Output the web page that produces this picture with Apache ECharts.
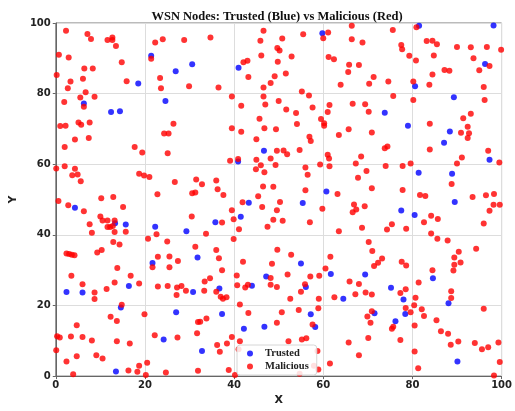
<!DOCTYPE html>
<html>
<head>
    <meta charset="UTF-8">
    <title>WSN Nodes</title>
    <style>
        html, body { margin: 0; padding: 0; background: #fff; }
        #chart { width: 515px; height: 411px; }
    </style>
    <script src="https://cdn.jsdelivr.net/npm/echarts@6/dist/echarts.min.js"></script>
</head>
<body>
<div id="chart"></div>
<script type="text/javascript">
    // axis ticks
    var ticks = [0, 20, 40, 60, 80, 100];

    // trusted nodes [x, y]
    var trusted = [
        [6.3,77.2],[18.5,82.9],[12.4,74.8],[14.4,75.0],[21.4,90.7],[26.9,86.3],[30.6,88.3],[24.6,77.9],
        [41.0,87.3],[59.8,97.1],
        [81.5,99.2],[98.2,99.3],[96.3,88.4],[80.6,82.1],[89.3,79.0],[73.8,74.6],[79.0,70.9],[88.4,69.3],[87.1,66.1],
        [4.3,47.7],[13.3,43.3],[15.7,42.9],[22.3,42.3],[29.3,41.0],[21.7,32.0],[31.8,33.6],
        [46.7,63.8],[40.9,60.8],[60.7,52.3],[55.4,49.0],[43.3,49.1],[41.5,45.1],[35.8,43.6],[55.0,31.9],
        [97.3,61.3],[81.4,57.6],[88.9,57.3],[89.5,49.3],[77.5,46.9],[80.5,45.6],
        [2.4,23.8],[6.0,23.7],[16.4,25.5],[30.8,23.8],[14.6,19.4],[27.0,18.1],[24.2,10.4],[13.5,1.3],
        [36.7,24.8],[44.0,25.6],[47.2,28.2],[56.1,25.2],[61.7,28.9],[64.5,21.9],[37.3,17.6],[57.2,17.5],
        [58.2,13.9],[42.2,13.4],[46.8,14.0],[32.8,7.1],
        [69.4,28.8],[84.6,27.7],[75.2,25.0],[78.0,21.7],[88.1,20.6],[71.5,17.8],[78.4,17.6],[76.2,15.5],[90.1,4.1]
    ];

    // malicious nodes [x, y]
    var malicious = [
        // top left
        [2.3,97.8],[7.1,96.9],[7.9,95.5],[11.6,95.2],[12.7,95.9],[12.7,95.2],[13.5,93.5],[0.7,91.0],[2.9,90.2],
        [14.8,88.9],[6.4,87.1],[8.3,87.1],[0.2,85.3],[6.1,84.2],[3.3,83.4],[15.9,83.5],[2.7,81.5],[6.7,80.4],
        [5.5,78.9],[8.7,79.1],[6.3,76.3],[1.9,77.6],[1.0,70.8],[2.2,70.9],[5.1,71.8],[5.7,71.2],[7.6,71.8],
        [4.3,67.0],[7.4,67.4],[22.3,94.5],[24.0,95.4],[28.8,95.2],[21.4,89.9],[23.4,84.4],[23.6,81.5],
        [29.9,82.1],[26.4,71.5],[24.3,68.7],[25.3,68.7],
        // top middle
        [34.7,95.9],[46.6,97.8],[45.9,95.0],[50.8,95.6],[55.5,96.8],[61.1,97.3],[60.0,95.7],[66.4,99.2],
        [66.4,95.4],[49.7,92.9],[50.2,92.2],[46.1,90.8],[52.9,90.5],[42.1,88.9],[43.0,89.3],[49.8,89.0],
        [61.2,90.4],[62.4,89.7],[65.8,88.2],[65.6,86.1],[43.2,84.7],[49.1,84.9],[51.6,85.7],[63.9,82.5],
        [48.2,83.0],[36.5,81.7],[46.6,81.7],[39.5,79.2],[46.6,79.2],[55.2,80.6],[56.8,79.5],[50.0,77.9],
        [41.6,76.6],[47.0,76.9],[61.4,76.8],[66.6,77.1],[51.7,75.5],[57.6,76.1],[53.9,74.5],[61.0,74.8],
        [45.7,72.9],[59.5,72.8],[60.2,71.6],[60.2,70.9],[54.1,71.4],[39.5,70.2],[41.6,69.2],[46.8,70.2],
        [49.4,69.9],[65.7,69.9],[45.0,67.1],[56.9,67.8],[57.2,66.6],[63.5,68.3],
        // top right
        [75.6,98.0],[80.9,98.8],[68.8,94.5],[77.5,93.8],[77.7,92.6],[83.2,94.9],[84.5,95.0],[85.5,94.0],
        [90.0,93.2],[93.1,93.1],[96.7,93.2],[99.9,92.4],[79.3,90.7],[80.8,89.4],[84.8,90.8],[93.7,90.0],
        [68.0,88.1],[87.2,86.7],[88.3,86.5],[95.0,86.6],[97.3,87.8],[71.3,84.7],[84.5,85.4],[70.3,82.8],
        [74.6,83.4],[80.2,83.4],[83.8,82.5],[96.0,81.9],[75.7,79.3],[80.2,78.2],[96.2,78.2],[69.4,77.0],
        [70.2,74.9],[93.1,74.3],[91.4,73.0],[83.9,71.5],[92.4,70.6],[70.9,69.0],[90.9,68.9],[92.7,68.8],
        [92.4,67.4],
        // middle left
        [2.0,64.9],[17.7,64.9],[19.4,63.3],[25.1,63.1],[0.1,58.8],[2.0,59.4],[4.3,58.7],[3.7,56.9],[4.9,57.1],
        [5.6,55.2],[18.7,57.3],[19.8,56.8],[21.0,56.4],[26.7,55.0],[31.5,55.7],[22.8,51.5],[30.6,51.8],
        [31.3,52.0],[0.6,49.6],[2.8,48.4],[10.2,50.4],[12.9,50.7],[15.1,47.9],[6.3,46.7],[30.5,45.2],
        [10.0,45.2],[10.5,44.1],[11.6,44.1],[13.2,44.1],[7.6,43.0],[11.6,42.2],[12.2,42.2],[12.8,42.5],
        [13.2,40.8],[8.1,40.6],[15.7,40.9],[22.6,40.2],[20.7,38.9],[12.9,38.0],[14.3,37.3],[25.0,38.1],
        [31.3,36.6],[9.3,35.0],[10.3,35.7],[2.4,34.7],[3.0,34.6],[3.6,34.4],[4.2,34.2],[22.9,33.8],
        [25.5,33.9],[27.4,32.6],[13.8,30.6],[21.7,30.8],[25.5,30.8],
        // middle
        [49.6,63.8],[51.1,63.9],[51.9,62.8],[54.7,64.0],[61.0,62.7],[61.3,61.6],[39.1,61.0],[40.9,61.5],
        [45.0,61.3],[48.2,61.6],[44.9,58.6],[46.0,59.7],[49.3,59.8],[46.8,57.7],[56.0,59.1],[59.3,59.9],
        [61.4,59.4],[56.5,57.0],[32.8,54.3],[36.0,55.4],[36.3,52.9],[37.6,51.3],[46.5,53.7],[48.8,53.6],
        [56.0,52.6],[63.2,51.6],[45.4,50.9],[41.9,49.2],[50.3,49.3],[46.3,47.9],[39.5,47.0],[49.6,47.0],
        [59.8,47.4],[66.6,46.4],[39.9,44.4],[37.3,43.5],[48.8,44.3],[50.9,44.0],[57.0,43.6],[47.5,42.3],
        [41.1,41.6],[63.5,41.0],[33.7,40.3],[39.9,38.8],[36.0,35.7],[49.7,35.8],[52.8,34.4],[61.6,33.8],
        [36.6,33.4],[42.0,32.4],[48.5,31.8],[60.5,30.5],[37.3,30.0],
        // middle right
        [73.8,64.5],[74.4,65.0],[83.9,64.2],[97.0,63.8],[68.5,62.2],[91.1,61.9],[67.3,60.2],[74.0,59.5],
        [77.8,59.5],[79.6,60.2],[90.0,60.2],[99.5,60.5],[69.7,58.1],[67.8,56.2],[88.8,54.4],[70.9,53.2],
        [77.8,52.7],[81.7,51.3],[82.9,51.0],[93.5,50.7],[96.5,51.2],[98.3,51.6],[67.4,47.2],[69.3,48.1],
        [66.9,48.6],[98.2,48.5],[99.6,48.5],[97.3,46.8],[84.2,45.4],[85.7,44.5],[82.6,43.6],[75.4,43.0],
        [96.0,43.2],[68.7,42.0],[74.3,41.5],[78.6,41.7],[84.2,40.4],[85.6,38.9],[87.9,38.4],[70.2,38.0],
        [94.3,36.1],[71.0,35.4],[90.4,35.2],[89.4,33.6],[73.2,33.3],[90.8,32.2],[89.4,31.5],[72.3,32.1],
        [71.4,31.2],[77.6,32.4],[78.6,31.3],[84.5,30.0],[89.2,29.9],
        // bottom left
        [3.5,28.4],[16.8,28.4],[6.0,26.0],[13.2,26.5],[18.7,26.2],[11.4,24.7],[8.7,23.7],[8.7,21.8],
        [22.9,25.4],[25.1,25.5],[27.2,25.1],[28.2,25.5],[29.2,24.2],[27.1,23.0],[14.8,20.2],[19.9,17.5],
        [12.3,16.8],[13.7,15.6],[4.7,14.4],[31.9,15.3],[0.3,11.3],[0.9,10.9],[3.4,11.2],[6.0,11.1],
        [8.1,10.1],[13.7,9.9],[16.6,9.2],[22.2,11.6],[27.3,10.9],[31.7,12.1],[0.1,7.3],[2.4,4.1],[4.7,5.6],
        [9.1,5.9],[10.5,5.0],[3.9,0.5],[16.3,1.6],[18.3,1.2],[18.7,2.9],[20.5,3.8],[20.2,0.3],[24.7,1.0],
        [31.9,1.5],
        // bottom middle
        [33.4,26.8],[34.6,27.7],[40.6,28.5],[48.2,27.8],[52.0,28.8],[57.1,28.2],[59.1,28.4],[33.3,24.2],
        [36.0,23.9],[40.7,25.7],[42.5,25.1],[43.1,25.9],[48.2,25.9],[49.6,25.2],[55.9,26.0],[55.0,23.9],
        [37.0,22.5],[37.5,21.9],[38.3,22.3],[65.9,26.8],[52.6,21.9],[59.0,21.9],[62.5,22.3],[41.3,20.3],
        [43.2,17.9],[50.7,18.1],[54.5,18.7],[58.9,19.2],[32.4,15.4],[33.8,16.3],[49.6,15.1],[57.6,14.6],
        [39.5,11.1],[41.3,9.9],[38.4,9.2],[36.2,8.8],[52.2,9.9],[55.2,10.4],[56.2,10.7],[65.7,9.5],
        [41.0,7.6],[36.8,6.9],[58.7,7.1],[61.5,3.6],[38.8,1.7],[40.2,0.3],[54.7,0.7],[57.9,2.9],[58.9,1.9],
        // bottom right
        [68.0,26.1],[67.2,23.2],[69.5,23.7],[70.9,23.1],[77.3,23.5],[78.5,24.6],[81.4,26.5],[80.7,22.2],
        [88.7,24.0],[88.7,22.1],[70.9,18.4],[69.9,16.9],[70.6,15.1],[78.5,19.3],[80.4,20.1],[79.6,18.1],
        [82.1,18.9],[82.6,17.0],[96.0,19.1],[75.7,14.0],[75.4,13.4],[80.5,14.3],[85.4,15.8],[70.1,10.8],
        [77.3,10.2],[86.4,12.7],[88.0,12.0],[88.6,8.9],[90.3,9.8],[94.0,9.4],[95.6,7.6],[97.0,8.2],
        [99.3,9.5],[68.0,5.9],[80.5,7.0],[99.6,4.0],[81.3,2.2],[98.3,0.2]
    ];

    var myChart = echarts.init(document.getElementById('chart'), null, { renderer: 'canvas' });

    var axisFont = { fontFamily: 'DejaVu Sans', fontWeight: 'bold', fontSize: 10, color: '#222' };

    var option = {
        animation: false,
        backgroundColor: '#fff',
        title: {
            text: 'WSN Nodes: Trusted (Blue) vs Malicious (Red)',
            left: 272,
            textAlign: 'center',
            top: 5,
            textStyle: { fontFamily: 'Liberation Serif', fontWeight: 'bold', fontSize: 12.5, color: '#111' }
        },
        grid: {
            left: 43, right: 13, top: 23, bottom: 31,
            show: true, borderColor: '#777', borderWidth: 1
        },
        legend: {
            orient: 'vertical',
            left: 237, top: 345,
            padding: [3, 8, 3, 10],
            itemGap: 2,
            itemWidth: 6, itemHeight: 6,
            icon: 'circle',
            backgroundColor: 'rgba(255,255,255,0.85)',
            borderColor: '#d6d6d6', borderWidth: 1, borderRadius: 3,
            textStyle: {
                fontFamily: 'Liberation Serif', fontWeight: 'bold', fontSize: 10.5, color: '#222',
                padding: [0, 0, 0, 7]
            },
            data: ['Trusted', 'Malicious']
        },
        xAxis: {
            type: 'value', min: ticks[0], max: ticks[ticks.length - 1], interval: 20,
            name: 'X', nameLocation: 'middle', nameGap: 18,
            nameTextStyle: { fontFamily: 'DejaVu Sans', fontWeight: 'bold', fontSize: 11, color: '#222' },
            axisLine: { show: true, lineStyle: { color: '#666' } },
            axisTick: { show: true, inside: false, length: 3, lineStyle: { color: '#666' } },
            axisLabel: Object.assign({ margin: 4 }, axisFont),
            splitLine: { show: true, lineStyle: { color: '#dddddd', width: 1 } }
        },
        yAxis: {
            type: 'value', min: ticks[0], max: ticks[ticks.length - 1], interval: 20,
            name: 'Y', nameLocation: 'middle', nameGap: 31, nameRotate: 90,
            nameTextStyle: { fontFamily: 'DejaVu Sans', fontWeight: 'bold', fontSize: 11, color: '#222' },
            axisLine: { show: true, lineStyle: { color: '#666' } },
            axisTick: { show: true, inside: false, length: 3, lineStyle: { color: '#666' } },
            axisLabel: Object.assign({ margin: 5 }, axisFont),
            splitLine: { show: true, lineStyle: { color: '#dddddd', width: 1 } }
        },
        series: [
            {
                name: 'Trusted',
                type: 'scatter',
                data: trusted,
                symbolSize: 6,
                itemStyle: { color: '#0000ff' }
            },
            {
                name: 'Malicious',
                type: 'scatter',
                data: malicious,
                symbolSize: 6,
                itemStyle: { color: '#ff0000' }
            }
        ]
    };

    myChart.setOption(option);
</script>
</body>
</html>
